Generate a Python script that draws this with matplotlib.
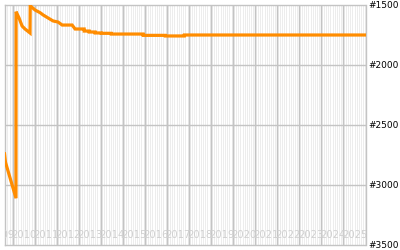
import pandas as pd
import matplotlib
matplotlib.use("Agg")
import matplotlib.pyplot as plt
import matplotlib.transforms as mtransforms

# rank history (lower is better, axis is inverted)
dates = [
    "2009-08-12", "2009-08-28", "2010-02-18", "2010-02-20", "2010-04-10",
    "2010-05-30", "2010-07-18", "2010-10-09", "2010-10-12", "2011-01-01",
    "2011-03-25", "2011-05-14", "2011-08-04", "2011-10-26", "2012-01-17",
    "2012-03-25", "2012-09-06", "2012-10-26", "2013-03-25", "2013-03-26",
    "2013-06-16", "2013-06-17", "2013-09-23", "2013-09-24", "2014-01-01",
    "2014-01-02", "2014-06-16", "2014-06-17", "2015-11-28", "2015-11-29",
    "2016-11-28", "2016-11-29", "2017-10-10", "2017-10-11", "2026-01-01",
]
ranks = [
    2740, 2810, 3110, 1556, 1608,
    1675, 1700, 1733, 1506, 1542,
    1564, 1583, 1608, 1633, 1642,
    1667, 1667, 1700, 1700, 1717,
    1717, 1725, 1725, 1733, 1733,
    1736, 1736, 1742, 1742, 1753,
    1753, 1758, 1758, 1750, 1750,
]
years = list(range(2009, 2026))
rank_ticks = [1500, 2000, 2500, 3000, 3500]

df = pd.DataFrame({"date": pd.to_datetime(dates), "rank": ranks})

fig = plt.figure(figsize=(4, 2.5), dpi=100)
ax = fig.add_axes([5 / 400, 5 / 250, 360.5 / 400, 240 / 250])
ax.set_facecolor("#ececec")

x0 = pd.Timestamp("2009-08-20")
x1 = pd.Timestamp("2026-01-01")
ax.set_xlim(x0, x1)
ax.set_ylim(3500, 1500)

# monthly white stripes
months = pd.date_range("2009-09-01", "2025-12-01", freq="MS")
for m in months:
    ax.axvline(m, color="white", lw=0.8, zorder=1)

# yearly grey grid
for y in years[1:]:
    ax.axvline(pd.Timestamp(f"{y}-01-01"), color="#c4c4c4", lw=1.0, zorder=2)
for r in rank_ticks[1:-1]:
    ax.axhline(r, color="#c4c4c4", lw=1.0, zorder=2)

# year labels inside the plot, centred in each year band
trans = mtransforms.blended_transform_factory(ax.transData, ax.transAxes)
for y in years:
    mid = pd.Timestamp(f"{y}-07-02")
    ax.text(mid, 0.042, str(y), transform=trans, ha="center", va="center",
            fontsize=7.2, color="#d0d0d0", clip_on=True, zorder=3)

ax.plot(df["date"], df["rank"], color="#ff8c00", lw=2.3, zorder=4,
        solid_joinstyle="miter")

ax.set_xticks([])
ax.yaxis.tick_right()
ax.set_yticks(rank_ticks)
ax.set_yticklabels([f"#{r}" for r in rank_ticks], fontsize=6.5)
ax.tick_params(axis="y", length=0, pad=2)

for s in ax.spines.values():
    s.set_color("#c4c4c4")
    s.set_linewidth(1.0)

fig.savefig("out.png", dpi=100)
